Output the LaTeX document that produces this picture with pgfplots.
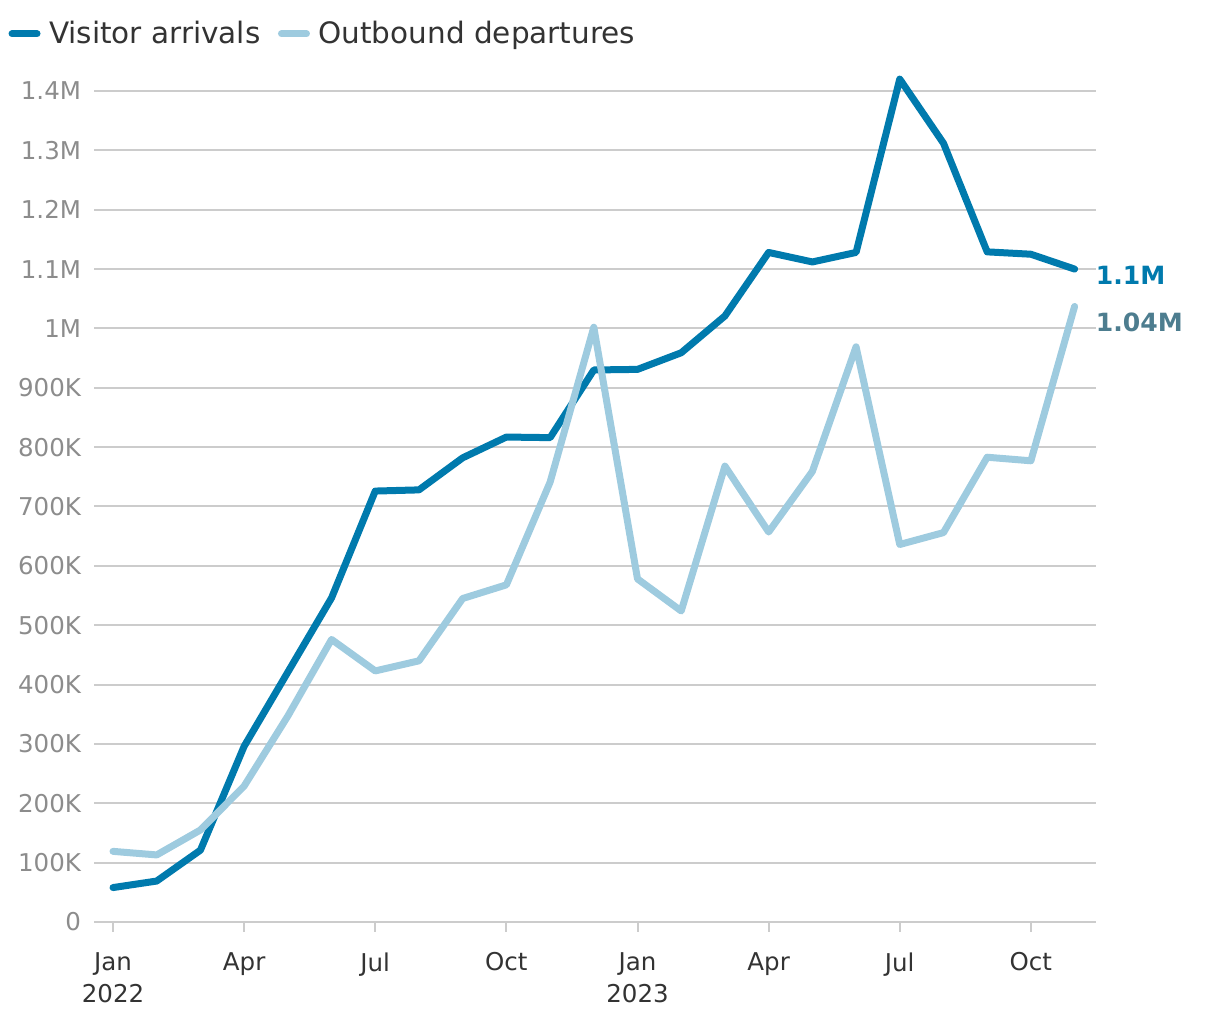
\documentclass[border=0pt]{standalone}
\usepackage{pgfplots}
\usepackage{pgfplotstable}
\pgfplotsset{compat=1.18}
\usepackage{fontspec}
\setmainfont{DejaVu Sans}
\definecolor{dark}{HTML}{007AAD}
\definecolor{light}{HTML}{9ECBDF}
\definecolor{lab2}{HTML}{4D7D8F}
\definecolor{gridc}{HTML}{CCCCCC}
\definecolor{ticklab}{HTML}{8C8C8C}
\definecolor{txt}{HTML}{333333}

\pgfplotstableread{
x y
0 58
1 69
2 121
3 296
4 421
5 546
6 726
7 728
8 782
9 817
10 816
11 930
12 931
13 959
14 1021
15 1128
16 1112
17 1128
18 1420
19 1312
20 1129
21 1125
22 1100
}\arrivals

\pgfplotstableread{
x y
0 119
1 113
2 155
3 229
4 347
5 476
6 423
7 440
8 545
9 568
10 741
11 1002
12 578
13 524
14 768
15 657
16 759
17 969
18 636
19 656
20 783
21 777
22 1037
}\departures

\begin{document}
\begin{tikzpicture}
\path[use as bounding box] (0,0) rectangle (610bp,510bp);
\begin{axis}[
  at={(47bp,49bp)}, anchor=south west,
  scale only axis, width=501bp, height=424.4bp,
  xmin=-0.435, xmax=22.49, ymin=0, ymax=1430,
  clip=false,
  axis line style={draw=none},
  ymajorgrids, grid style={gridc, line width=1bp},
  ytick={0,100,...,1400},
  yticklabels={0,100K,200K,300K,400K,500K,600K,700K,800K,900K,1M,1.1M,1.2M,1.3M,1.4M},
  xtick={0,3,...,21},
  xticklabels={{Jan\\2022},Apr,Jul,Oct,{Jan\\2023},Apr,Jul,Oct},
  xtick pos=bottom, tick align=outside, major tick length=5bp,
  xtick style={gridc, line width=1bp},
  ytick style={draw=none},
  xticklabel style={font=\fontsize{12.3}{16}\selectfont, text=txt, align=center, anchor=north, inner sep=0pt, yshift=-10bp},
  yticklabel style={font=\fontsize{12.3}{14}\selectfont, text=ticklab, anchor=east, inner sep=0pt, xshift=-1.3bp},
  legend columns=2,
  legend cell align=left,
  legend image code/.code={\draw[#1, line width=3.5bp, line cap=round] (1.75bp,0pt) -- (14.25bp,0pt);},
  legend style={at={(-0.0853,1.0464)}, anchor=west, draw=none, fill=none,
    inner sep=0pt, outer sep=0pt, font=\fontsize{14.8}{17}\selectfont, text=txt,
    nodes={inner sep=0pt},
    /tikz/every odd column/.append style={column sep=4.25bp},
    /tikz/every even column/.append style={column sep=8.75bp}},
]
\addplot[dark, line width=3.5bp, line cap=round, line join=round] table[x=x, y=y] {\arrivals};
\addlegendentry{Visitor arrivals}
\addplot[light, line width=3.5bp, line cap=round, line join=round] table[x=x, y=y] {\departures};
\addlegendentry{Outbound departures}
\node[anchor=west, inner sep=0pt, text=dark, font=\bfseries\fontsize{12.6}{15}\selectfont] at (axis cs:22.48,1090) {1.1M};
\node[anchor=west, inner sep=0pt, text=lab2, font=\bfseries\fontsize{12.6}{15}\selectfont] at (axis cs:22.48,1011) {1.04M};
\end{axis}
\end{tikzpicture}
\end{document}
